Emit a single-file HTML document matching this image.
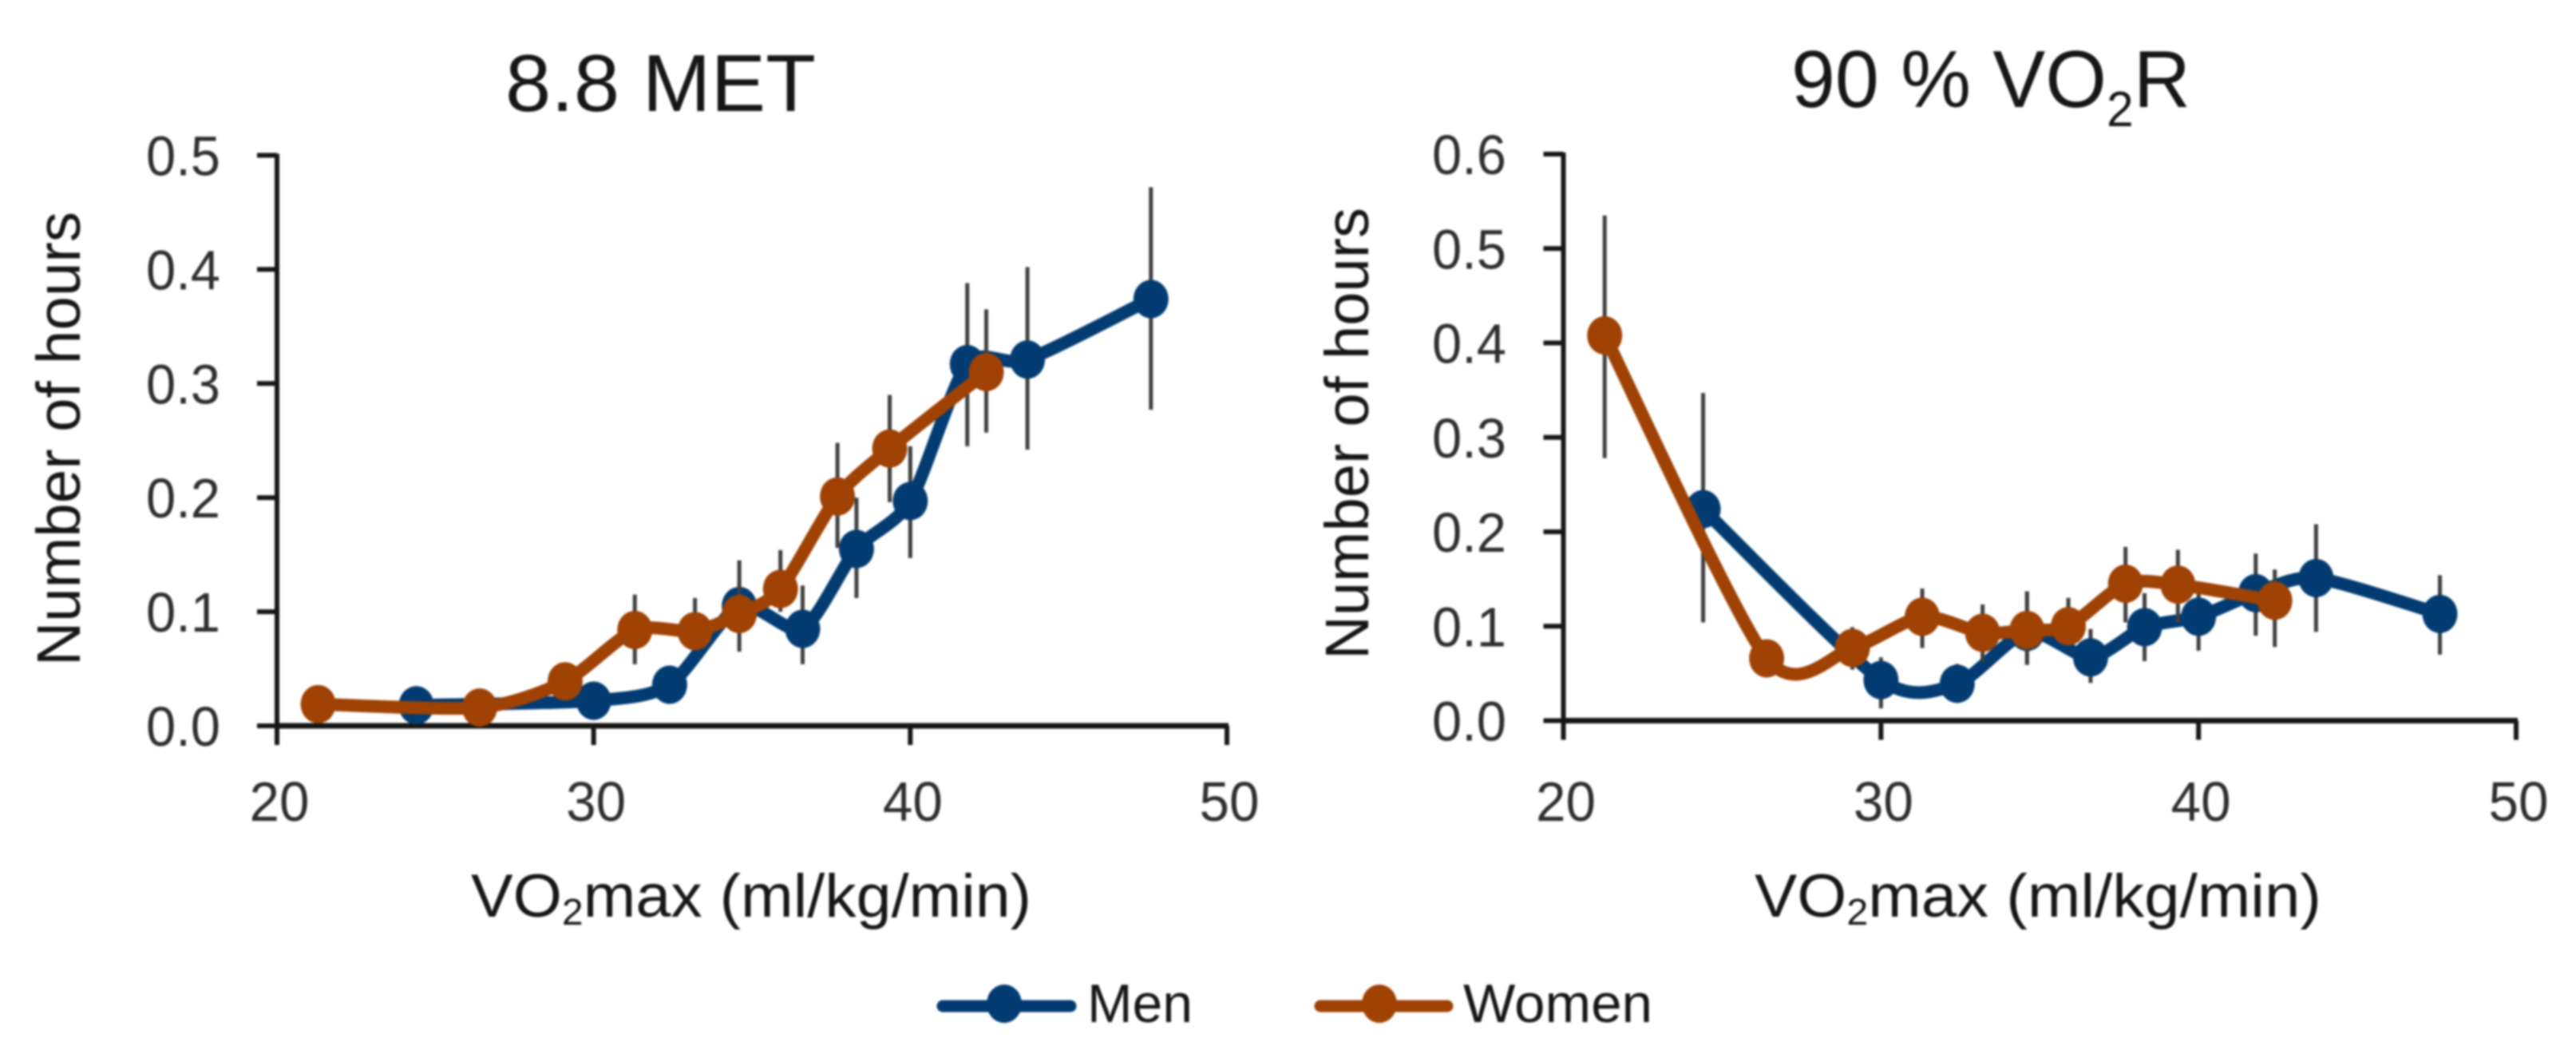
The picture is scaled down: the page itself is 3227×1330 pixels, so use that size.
<!DOCTYPE html>
<html lang="en">
<head>
<meta charset="utf-8">
<title>Hours above intensity by VO2max</title>
<style>
html,body{margin:0;padding:0;background:#fff;}
body{width:3227px;height:1330px;overflow:hidden;}
svg{display:block;filter:blur(1.2px);}
text{font-family:"Liberation Sans",sans-serif;fill:#161616;}
</style>
</head>
<body>
<svg id="figure" xmlns="http://www.w3.org/2000/svg" width="3227" height="1330" viewBox="0 0 3227 1330">
  <rect x="0" y="0" width="3227" height="1330" fill="#ffffff"/>

  <text x="633" y="139" font-size="101" textLength="389" lengthAdjust="spacingAndGlyphs">8.8 MET</text>
  <text x="2244" y="134" font-size="101" textLength="500" lengthAdjust="spacingAndGlyphs">90 % VO<tspan font-size="62" dy="24">2</tspan><tspan dy="-24">R</tspan></text>

  <text transform="translate(100 834) rotate(-90)" x="0" y="0" font-size="77" textLength="569" lengthAdjust="spacingAndGlyphs">Number of hours</text>
  <text transform="translate(1714 826) rotate(-90)" x="0" y="0" font-size="77" textLength="566" lengthAdjust="spacingAndGlyphs">Number of hours</text>

  <text x="590" y="1148" font-size="76" textLength="702" lengthAdjust="spacingAndGlyphs">VO<tspan font-size="46" dy="10">2</tspan><tspan dy="-10">max (ml/kg/min)</tspan></text>
  <text x="2198" y="1148" font-size="76" textLength="710" lengthAdjust="spacingAndGlyphs">VO<tspan font-size="46" dy="10">2</tspan><tspan dy="-10">max (ml/kg/min)</tspan></text>

  <g>
    <g>
      <line x1="1181" y1="1260" x2="1341" y2="1260" stroke="#023c72" stroke-width="15" stroke-linecap="round"/>
      <ellipse cx="1258" cy="1257" rx="22" ry="24" fill="#023c72"/>
      <text x="1362" y="1280" font-size="68" textLength="132" lengthAdjust="spacingAndGlyphs">Men</text>
    </g>
    <g>
      <line x1="1654" y1="1260" x2="1813" y2="1260" stroke="#9f4204" stroke-width="15" stroke-linecap="round"/>
      <ellipse cx="1728" cy="1257" rx="22" ry="24" fill="#9f4204"/>
      <text x="1833" y="1280" font-size="68" textLength="237" lengthAdjust="spacingAndGlyphs">Women</text>
    </g>
  </g>

  <g id="left-chart"></g>
  <g id="right-chart"></g>
</svg>

<script>
const xTickLabels = [20, 30, 40, 50];
const leftYTickLabels = [0.0, 0.1, 0.2, 0.3, 0.4, 0.5];
const rightYTickLabels = [0.0, 0.1, 0.2, 0.3, 0.4, 0.5, 0.6];

const menVO2 = [24.4, 30.0, 32.4, 34.6, 36.6, 38.3, 40.0, 41.8, 43.7, 47.6];
const womenVO2 = [21.3, 26.4, 29.1, 31.3, 33.2, 34.6, 35.9, 37.7, 39.35, 42.4];

const leftMen = [0.018, 0.022, 0.036, 0.105, 0.085, 0.155, 0.197, 0.317, 0.321, 0.374];
const leftMenHigh = [0.025, 0.03, 0.05, 0.125, 0.123, 0.2, 0.245, 0.388, 0.402, 0.472];
const leftMenLow = [0.01, 0.014, 0.02, 0.085, 0.054, 0.112, 0.147, 0.245, 0.242, 0.277];
const leftWomen = [0.019, 0.016, 0.039, 0.084, 0.083, 0.098, 0.12, 0.201, 0.243, 0.31];
const leftWomenHigh = [0.025, 0.022, 0.052, 0.115, 0.112, 0.145, 0.154, 0.248, 0.29, 0.365];
const leftWomenLow = [0.013, 0.012, 0.026, 0.054, 0.069, 0.065, 0.1, 0.156, 0.196, 0.257];

const rightMen = [0.224, 0.043, 0.039, 0.094, 0.067, 0.099, 0.11, 0.135, 0.151, 0.113];
const rightMenHigh = [0.347, 0.067, 0.06, 0.137, 0.097, 0.135, 0.143, 0.177, 0.208, 0.154];
const rightMenLow = [0.104, 0.013, 0.02, 0.059, 0.04, 0.063, 0.074, 0.09, 0.094, 0.07];
const rightWomen = [0.408, 0.066, 0.077, 0.11, 0.093, 0.096, 0.1, 0.145, 0.144, 0.127];
const rightWomenHigh = [0.535, 0.08, 0.099, 0.14, 0.123, 0.137, 0.13, 0.184, 0.181, 0.16];
const rightWomenLow = [0.278, 0.05, 0.054, 0.077, 0.062, 0.06, 0.08, 0.104, 0.104, 0.078];

const SVG_NS = 'http://www.w3.org/2000/svg';
const MEN_COLOR = '#023c72';
const WOMEN_COLOR = '#9f4204';

function make(parent, tag, attrs, text) {
  const node = document.createElementNS(SVG_NS, tag);
  Object.keys(attrs).forEach(function (k) { node.setAttribute(k, attrs[k]); });
  if (text !== undefined) node.textContent = text;
  parent.appendChild(node);
  return node;
}

function smoothPath(pts) {
  let d = 'M' + pts[0][0] + ' ' + pts[0][1];
  for (let i = 0; i < pts.length - 1; i++) {
    const p0 = pts[Math.max(i - 1, 0)];
    const p1 = pts[i];
    const p2 = pts[i + 1];
    const p3 = pts[Math.min(i + 2, pts.length - 1)];
    const c1x = p1[0] + (p2[0] - p0[0]) / 8;
    const c1y = p1[1] + (p2[1] - p0[1]) / 8;
    const c2x = p2[0] - (p3[0] - p1[0]) / 8;
    const c2y = p2[1] - (p3[1] - p1[1]) / 8;
    d += ' C' + c1x + ' ' + c1y + ' ' + c2x + ' ' + c2y + ' ' + p2[0] + ' ' + p2[1];
  }
  return d;
}

function drawSeries(g, name, color, xs, ys, highs, lows, sx, sy) {
  const bars = make(g, 'g', {});
  
  
  xs.forEach(function (x, i) {
    const bar = make(bars, 'line', {
      x1: sx(x), x2: sx(x), y1: sy(highs[i]), y2: sy(lows[i]),
      stroke: '#3f3f3f', 'stroke-width': 5
    });
    
    
  });
  const pts = xs.map(function (x, i) { return [sx(x), sy(ys[i])]; });
  const line = make(g, 'path', {
    d: smoothPath(pts), fill: 'none', stroke: color,
    'stroke-width': 16, 'stroke-linejoin': 'round', 'stroke-linecap': 'round'
  });
  
  
  xs.forEach(function (x, i) {
    const dot = make(g, 'ellipse', { cx: sx(x), cy: sy(ys[i]), rx: 22, ry: 24, fill: color });
    
    
  });
}

function drawChart(cfg) {
  const g = document.getElementById(cfg.id);
  const sx = function (v) { return cfg.x0 + (v - 20) * (cfg.x1 - cfg.x0) / 30; };
  const sy = function (v) { return cfg.y0 - v * (cfg.y0 - cfg.yTop) / cfg.yMax; };

  const yAxis = make(g, 'line', { x1: cfg.x0, x2: cfg.x0, y1: cfg.yTop - 2, y2: cfg.y0, stroke: '#161616', 'stroke-width': 6 });
  
  
  const xAxis = make(g, 'line', { x1: cfg.x0, x2: cfg.x1 + 2, y1: cfg.y0, y2: cfg.y0, stroke: '#161616', 'stroke-width': 7 });
  
  

  cfg.yTicks.forEach(function (v) {
    const t = make(g, 'line', { x1: cfg.x0 - 25, x2: cfg.x0, y1: sy(v), y2: sy(v), stroke: '#161616', 'stroke-width': 6 });
    
    
    const l = make(g, 'text', { x: cfg.yLabelRight, y: sy(v) + 25, 'font-size': 70, 'text-anchor': 'end', textLength: 93, lengthAdjust: 'spacingAndGlyphs', style: 'fill:#2e2e2e' }, v.toFixed(1));
    
    
  });
  xTickLabels.forEach(function (v) {
    const t = make(g, 'line', { x1: sx(v), x2: sx(v), y1: cfg.y0, y2: cfg.y0 + 24, stroke: '#161616', 'stroke-width': 6 });
    
    
    const l = make(g, 'text', { x: sx(v) + 3, y: 1028, 'font-size': 70, 'text-anchor': 'middle', textLength: 75, lengthAdjust: 'spacingAndGlyphs', style: 'fill:#2e2e2e' }, String(v));
    
    
  });

  drawSeries(g, cfg.prefix + '-men', MEN_COLOR, menVO2, cfg.men, cfg.menHigh, cfg.menLow, sx, sy);
  drawSeries(g, cfg.prefix + '-women', WOMEN_COLOR, womenVO2, cfg.women, cfg.womenHigh, cfg.womenLow, sx, sy);
}

drawChart({
  id: 'left-chart', prefix: 'left',
  x0: 347, x1: 1537, y0: 909, yTop: 194.5, yMax: 0.5, yLabelRight: 276,
  yTicks: leftYTickLabels,
  men: leftMen, menHigh: leftMenHigh, menLow: leftMenLow,
  women: leftWomen, womenHigh: leftWomenHigh, womenLow: leftWomenLow
});
drawChart({
  id: 'right-chart', prefix: 'right',
  x0: 1958.5, x1: 3152, y0: 902.5, yTop: 193, yMax: 0.6, yLabelRight: 1887,
  yTicks: rightYTickLabels,
  men: rightMen, menHigh: rightMenHigh, menLow: rightMenLow,
  women: rightWomen, womenHigh: rightWomenHigh, womenLow: rightWomenLow
});
</script>
</body>
</html>
